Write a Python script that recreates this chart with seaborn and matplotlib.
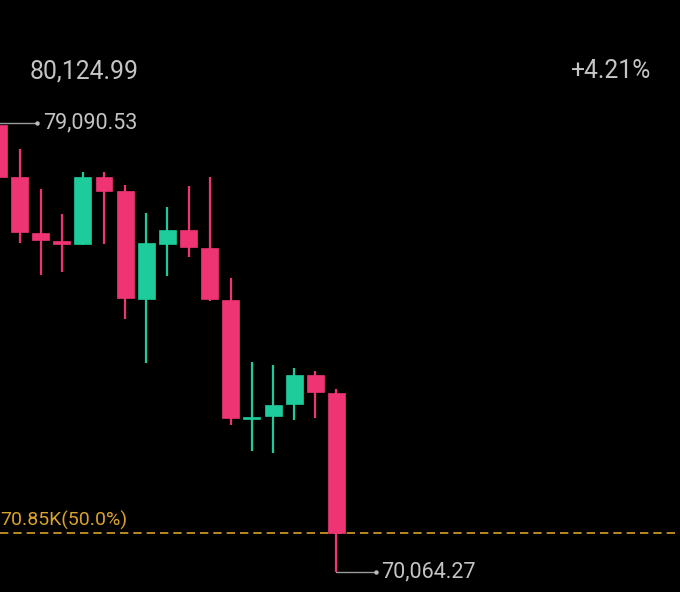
import matplotlib
matplotlib.use("Agg")
import matplotlib.pyplot as plt
import seaborn as sns
import numpy as np
import pandas as pd

# ---- data ----
opens  = [79050.3, 78004.9, 76879.2, 76718.3, 76658.0, 78004.9, 77723.5, 75552.4, 76658.0,
          76939.5, 76577.6, 75532.3, 73140.0, 73200.3, 73441.6, 74024.5, 73662.7]
highs  = [79090.53, 78567.9, 77763.7, 77261.1, 78105.5, 78105.5, 77844.1, 77281.2, 77401.8,
          77824.0, 78004.9, 75974.5, 74285.9, 74225.6, 74165.3, 74105.0, 73743.1]
lows   = [77964.8, 76678.1, 76034.9, 76095.2, 76637.9, 76658.0, 75150.3, 74265.8, 76014.7,
          76396.7, 75512.2, 73019.4, 72496.7, 72456.5, 73119.9, 73160.1, 70064.27]
closes = [78004.9, 76899.3, 76738.4, 76658.0, 78004.9, 77723.5, 75572.5, 76678.1, 76939.5,
          76597.7, 75552.4, 73160.1, 73180.2, 73421.5, 74024.5, 73682.8, 70840.0]
top_label = "80,124.99"
change_label = "+4.21%"
max_label = "79,090.53"
min_label = "70,064.27"
level_value = 70850.0
level_label = "70.85K(50.0%)"

df = pd.DataFrame({"open": opens, "high": highs, "low": lows, "close": closes})
df["idx"] = np.arange(len(df))

UP = "#1ECB9B"
DOWN = "#EE3472"
TXT = "#C4C4C4"
GOLD = "#D9A22B"

sns.set_theme(style="dark", rc={"axes.facecolor": "black", "figure.facecolor": "black"})
plt.rcParams["font.family"] = ["Roboto", "DejaVu Sans"]

fig = plt.figure(figsize=(6.8, 5.92), dpi=100)
ax = fig.add_axes([0, 0, 1, 1])
ax.set_facecolor("black")

up = df["close"] >= df["open"]
colors = np.where(up, UP, DOWN)

# wicks
ax.vlines(df["idx"], df["low"], df["high"], colors=colors, linewidth=1.6, zorder=2)
# bodies
body_bottom = np.minimum(df["open"], df["close"])
body_h = np.maximum(np.abs(df["close"] - df["open"]), 45)
ax.bar(df["idx"], body_h, bottom=body_bottom, width=0.80, color=colors,
       edgecolor=colors, linewidth=0.5, zorder=3)

# axis limits in data units
ax.set_xlim(0.077, 32.26)
ax.set_ylim(69662.2, 81563.2)
ax.axis("off")

# level line
ax.axhline(level_value, color=GOLD, linestyle=(0, (5, 3)), linewidth=1.2, zorder=1)
ax.text(0.0, level_value + 60, level_label, color=GOLD, fontsize=14,
        ha="left", va="bottom", transform=ax.get_yaxis_transform())

# max marker
imax = int(np.argmax(highs))
ax.plot([imax - 0.5, 1.85], [highs[imax]] * 2, color="#9A9A9A", linewidth=1.0, zorder=4)
ax.plot([1.85], [highs[imax]], "o", color="#BBBBBB", markersize=2.2, zorder=4)
ax.text(2.13, highs[imax], max_label, color=TXT, fontsize=15.5, ha="left", va="center")

# min marker
imin = int(np.argmin(lows))
ax.plot([imin, imin + 1.85], [lows[imin]] * 2, color="#9A9A9A", linewidth=1.0, zorder=4)
ax.plot([imin + 1.85], [lows[imin]], "o", color="#BBBBBB", markersize=2.2, zorder=4)
ax.text(imin + 2.12, lows[imin], min_label, color=TXT, fontsize=15.5, ha="left", va="center")

# top labels
fig.text(30 / 680, 1 - 71.5 / 592, top_label, color=TXT, fontsize=17.8, ha="left", va="center")
fig.text(650 / 680, 1 - 71.5 / 592, change_label, color=TXT, fontsize=17.8, ha="right", va="center")

fig.savefig("out.png", dpi=100, facecolor="black")
